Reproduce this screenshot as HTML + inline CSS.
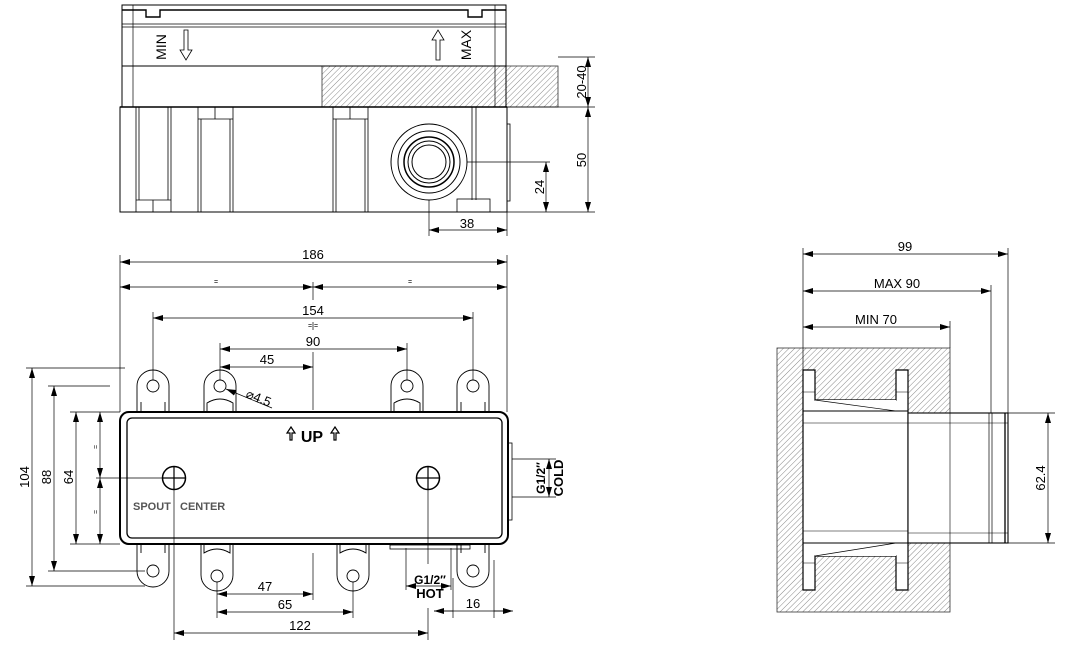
<!DOCTYPE html>
<html><head><meta charset="utf-8"><style>
html,body{margin:0;padding:0;background:#fff;}
svg{display:block;font-family:"Liberation Sans",sans-serif;}
</style></head><body>
<svg width="1078" height="645" viewBox="0 0 1078 645" xmlns="http://www.w3.org/2000/svg">
<defs>
<pattern id="h" width="4" height="4" patternUnits="userSpaceOnUse" patternTransform="rotate(45)">
<line x1="0" y1="0" x2="0" y2="4" stroke="#555" stroke-width="0.7"/>
</pattern>
<marker id="a" viewBox="0 0 10 6" refX="10" refY="3" markerWidth="10" markerHeight="6" orient="auto-start-reverse" markerUnits="userSpaceOnUse">
<path d="M0,0 L10,3 L0,6 z" fill="#000"/>
</marker>
</defs>
<g fill="none" stroke="#000" stroke-width="1">
<!-- TOP VIEW -->
<rect x="322" y="66" width="236" height="41" fill="url(#h)" stroke="#333" stroke-width="0.8"/>
<rect x="122" y="5" width="384" height="102"/>
<line x1="133" y1="5" x2="133" y2="107" stroke-width="0.7"/>
<line x1="495" y1="5" x2="495" y2="107" stroke-width="0.7"/>
<path d="M122,10 H146 V17 H160 V10 H468 V17 H482 V10 H506" stroke-width="1.4"/>
<line x1="122" y1="24" x2="506" y2="24" stroke-width="0.7"/>
<line x1="122" y1="27" x2="506" y2="27" stroke-width="0.7"/>
<line x1="122" y1="66" x2="506" y2="66"/>
<line x1="120" y1="107" x2="507" y2="107" stroke-width="1.6"/>
<rect x="120" y="107" width="387" height="105"/>
<g stroke-width="0.8">
<path d="M136,107 V212 M139,107 V200 M168,107 V200 M171,107 V212 M136,200 H171 M153,200 V212"/>
<path d="M198,107 V212 M233,107 V212 M201,119 V212 M230,119 V212 M198,119 H233 M215,107 V119"/>
<path d="M333,107 V212 M368,107 V212 M336,119 V212 M365,119 V212 M333,119 H368 M350,107 V119"/>
</g>
<line x1="472" y1="107" x2="472" y2="200" stroke-width="0.8"/>
<line x1="476" y1="107" x2="476" y2="200" stroke-width="0.8"/>
<rect x="457" y="199" width="33" height="13" stroke-width="0.8"/>
<rect x="507" y="124" width="3" height="77" stroke-width="0.8"/>
<circle cx="429" cy="162" r="38"/>
<circle cx="429" cy="162" r="31"/>
<circle cx="429" cy="162" r="25" stroke-width="1.5"/>
<circle cx="429" cy="162" r="21"/>
<circle cx="429" cy="162" r="17"/>
<path d="M184,30 V50 H180 L186,60 L192,50 H188 V30 Z" stroke-width="0.8"/>
<path d="M436,60 V40 H432 L438,30 L444,40 H440 V60 Z" stroke-width="0.8"/>
<!-- top dims -->
<line x1="558" y1="57" x2="595" y2="57" stroke-width="0.7"/>
<line x1="507" y1="107" x2="595" y2="107" stroke-width="0.7"/>
<line x1="507" y1="212" x2="595" y2="212" stroke-width="0.7"/>
<line x1="588" y1="57" x2="588" y2="107" marker-start="url(#a)" marker-end="url(#a)" stroke-width="0.7"/>
<line x1="588" y1="107" x2="588" y2="212" marker-start="url(#a)" marker-end="url(#a)" stroke-width="0.7"/>
<line x1="467" y1="162" x2="550" y2="162" stroke-width="0.7"/>
<line x1="546" y1="162" x2="546" y2="212" marker-start="url(#a)" marker-end="url(#a)" stroke-width="0.7"/>
<line x1="429" y1="200" x2="429" y2="236" stroke-width="0.7"/>
<line x1="507" y1="212" x2="507" y2="236" stroke-width="0.7"/>
<line x1="429" y1="230" x2="507" y2="230" marker-start="url(#a)" marker-end="url(#a)" stroke-width="0.7"/>

<!-- FRONT VIEW -->
<g stroke-width="0.9">
<path d="M137,412 V386 A16,16 0 0 1 169,386 V412" fill="#fff"/>
<path d="M204,412 V386 A16,16 0 0 1 236,386 V412" fill="#fff"/>
<path d="M391,412 V386 A16,16 0 0 1 423,386 V412" fill="#fff"/>
<path d="M457,412 V386 A16,16 0 0 1 489,386 V412" fill="#fff"/>
<path d="M137,543 V571 A16,16 0 0 0 169,571 V543" fill="#fff"/>
<path d="M201,543 V575 A16,16 0 0 0 233,575 V543" fill="#fff"/>
<path d="M337,543 V575 A16,16 0 0 0 369,575 V543" fill="#fff"/>
<path d="M457,543 V571 A16,16 0 0 0 489,571 V543" fill="#fff"/>
<circle cx="153" cy="386" r="6"/><circle cx="220" cy="386" r="6"/><circle cx="407" cy="386" r="6"/><circle cx="473" cy="386" r="6"/>
<circle cx="153" cy="571" r="6"/><circle cx="217" cy="576" r="6"/><circle cx="353" cy="576" r="6"/><circle cx="473" cy="571" r="6"/>
<path d="M207,411 V403 Q220,395 233,403 V411"/>
<path d="M394,411 V403 Q407,395 420,403 V411"/>
<path d="M204,545 V553 Q217,545 230,553 V545"/>
<path d="M340,545 V553 Q353,545 366,553 V545"/>
<path d="M141,412 V402 M165,412 V402 M461,412 V402 M485,412 V402 M141,543 V553 M165,543 V553 M461,543 V553 M485,543 V553"/>
</g>
<rect x="120" y="412" width="388" height="132" rx="9" fill="#fff" stroke-width="2"/>
<rect x="127" y="418" width="375" height="120" rx="5" stroke-width="1.3"/>
<rect x="508" y="443" width="4" height="77" stroke-width="0.8"/>
<rect x="390" y="545" width="80" height="4" stroke-width="0.8"/>
<circle cx="174" cy="478" r="11.5" stroke-width="1.5"/>
<path d="M162.5,478 H185.5 M174,466.5 V489.5" stroke-width="1.2"/>
<circle cx="428" cy="478" r="11.5" stroke-width="1.5"/>
<path d="M416.5,478 H439.5 M428,466.5 V489.5" stroke-width="1.2"/>
<path d="M290,440 V433 H287 L291,427 L295,433 H292 V440 Z" stroke-width="1.2"/>
<path d="M334,440 V433 H331 L335,427 L339,433 H336 V440 Z" stroke-width="1.2"/>
<g stroke-width="0.7">
<line x1="120" y1="255" x2="120" y2="412"/>
<line x1="507" y1="255" x2="507" y2="412"/>
<line x1="120" y1="262" x2="507" y2="262" marker-start="url(#a)" marker-end="url(#a)"/>
<line x1="120" y1="287" x2="313" y2="287" marker-start="url(#a)" marker-end="url(#a)"/>
<line x1="313" y1="287" x2="507" y2="287" marker-start="url(#a)" marker-end="url(#a)"/>
<line x1="313" y1="282" x2="313" y2="300"/>
<line x1="153" y1="312" x2="153" y2="380"/>
<line x1="473" y1="312" x2="473" y2="380"/>
<line x1="153" y1="318" x2="473" y2="318" marker-start="url(#a)" marker-end="url(#a)"/>
<line x1="313" y1="322" x2="313" y2="330"/>
<line x1="220" y1="343" x2="220" y2="380"/>
<line x1="407" y1="343" x2="407" y2="380"/>
<line x1="220" y1="349" x2="407" y2="349" marker-start="url(#a)" marker-end="url(#a)"/>
<line x1="313" y1="352" x2="313" y2="410"/>
<line x1="220" y1="367" x2="313" y2="367" marker-start="url(#a)" marker-end="url(#a)"/>
<line x1="226" y1="389" x2="272" y2="408" marker-start="url(#a)"/>
<line x1="26" y1="368" x2="125" y2="368"/>
<line x1="26" y1="586" x2="145" y2="586"/>
<line x1="32" y1="368" x2="32" y2="586" marker-start="url(#a)" marker-end="url(#a)"/>
<line x1="48" y1="386" x2="110" y2="386"/>
<line x1="48" y1="571" x2="145" y2="571"/>
<line x1="54" y1="386" x2="54" y2="571" marker-start="url(#a)" marker-end="url(#a)"/>
<line x1="70" y1="412" x2="120" y2="412"/>
<line x1="70" y1="544" x2="120" y2="544"/>
<line x1="76" y1="412" x2="76" y2="544" marker-start="url(#a)" marker-end="url(#a)"/>
<line x1="100" y1="412" x2="100" y2="478" marker-start="url(#a)" marker-end="url(#a)"/>
<line x1="100" y1="478" x2="100" y2="544" marker-start="url(#a)" marker-end="url(#a)"/>
<line x1="96" y1="478" x2="162" y2="478"/>
<line x1="174" y1="490" x2="174" y2="640"/>
<line x1="428" y1="490" x2="428" y2="564"/>
<line x1="428" y1="608" x2="428" y2="640"/>
<line x1="174" y1="633" x2="428" y2="633" marker-start="url(#a)" marker-end="url(#a)"/>
<line x1="217" y1="582" x2="217" y2="618"/>
<line x1="353" y1="582" x2="353" y2="618"/>
<line x1="313" y1="553" x2="313" y2="600"/>
<line x1="217" y1="594" x2="313" y2="594" marker-start="url(#a)" marker-end="url(#a)"/>
<line x1="217" y1="612" x2="353" y2="612" marker-start="url(#a)" marker-end="url(#a)"/>
<line x1="453" y1="578" x2="453" y2="618"/>
<line x1="494" y1="560" x2="494" y2="618"/>
<line x1="434" y1="611" x2="510" y2="611"/>
<line x1="453" y1="611" x2="434" y2="611" marker-end="url(#a)"/>
<line x1="494" y1="611" x2="513" y2="611" marker-end="url(#a)"/>
<line x1="406" y1="548" x2="406" y2="590"/>
<line x1="451" y1="548" x2="451" y2="590"/>
<line x1="406" y1="586" x2="451" y2="586" marker-start="url(#a)" marker-end="url(#a)"/>
<line x1="512" y1="459" x2="556" y2="459"/>
<line x1="512" y1="497" x2="556" y2="497"/>
<line x1="549" y1="459" x2="549" y2="497" marker-start="url(#a)" marker-end="url(#a)"/>
</g>

<!-- SIDE VIEW -->
<rect x="777" y="348" width="173" height="264" fill="url(#h)" stroke="#333" stroke-width="0.8"/>
<path d="M803,370 H815 V400 H896 V370 H908 V590 H896 V556 H815 V590 H803 Z" fill="#fff" stroke-width="1.2"/>
<rect x="815" y="400" width="81" height="12" fill="#fff" stroke="none"/>
<rect x="815" y="543" width="81" height="13" fill="#fff" stroke="none"/>
<path d="M815,400 L896,411 M815,556 L896,543" stroke-width="0.7"/>
<line x1="803" y1="411" x2="908" y2="411"/>
<line x1="803" y1="543" x2="908" y2="543"/>
<line x1="803" y1="423" x2="908" y2="423" stroke-width="0.6"/>
<line x1="803" y1="531" x2="908" y2="531" stroke-width="0.6"/>
<path d="M803,392 H815 M896,392 H908 M803,563 H815 M896,563 H908" stroke-width="0.5"/>
<rect x="908" y="413" width="100" height="130" fill="#fff" stroke-width="1.1"/>
<line x1="950" y1="413" x2="950" y2="543" stroke-width="0.6"/>
<line x1="989" y1="413" x2="989" y2="543" stroke-width="0.7"/>
<line x1="992" y1="413" x2="992" y2="543" stroke-width="0.7"/>
<line x1="1005" y1="413" x2="1005" y2="543" stroke-width="1.3"/>
<line x1="908" y1="423" x2="1008" y2="423" stroke-width="0.5"/>
<line x1="908" y1="533" x2="1008" y2="533" stroke-width="0.5"/>
<g stroke-width="0.7">
<line x1="803" y1="248" x2="803" y2="370"/>
<line x1="1008" y1="248" x2="1008" y2="413"/>
<line x1="991" y1="285" x2="991" y2="413"/>
<line x1="950" y1="321" x2="950" y2="348"/>
<line x1="803" y1="254" x2="1008" y2="254" marker-start="url(#a)" marker-end="url(#a)"/>
<line x1="803" y1="291" x2="991" y2="291" marker-start="url(#a)" marker-end="url(#a)"/>
<line x1="803" y1="327" x2="950" y2="327" marker-start="url(#a)" marker-end="url(#a)"/>
<line x1="1008" y1="413" x2="1055" y2="413"/>
<line x1="1008" y1="543" x2="1055" y2="543"/>
<line x1="1048" y1="413" x2="1048" y2="543" marker-start="url(#a)" marker-end="url(#a)"/>
</g>
</g>

<g fill="#000" font-size="13" text-anchor="middle">
<text transform="translate(166,47) rotate(-90)" font-size="14">MIN</text>
<text transform="translate(471,45) rotate(-90)" font-size="14">MAX</text>
<text transform="translate(586,82) rotate(-90)">20-40</text>
<text transform="translate(586,160) rotate(-90)">50</text>
<text transform="translate(544,187) rotate(-90)">24</text>
<text x="467" y="228">38</text>
<text x="313" y="259">186</text>
<text x="216" y="284" font-size="7">=</text>
<text x="410" y="284" font-size="7">=</text>
<text x="313" y="315">154</text>
<text x="313" y="328" font-size="7">= =</text>
<text x="313" y="346">90</text>
<text x="267" y="364">45</text>
<text x="257" y="402" transform="rotate(22 257 402)">⌀4.5</text>
<text x="312" y="442" font-size="16" font-weight="bold">UP</text>
<text x="133" y="510" text-anchor="start" font-size="11" fill="#555" font-weight="bold">SPOUT</text>
<text x="180" y="510" text-anchor="start" font-size="11" fill="#555" font-weight="bold">CENTER</text>
<text transform="translate(29,477) rotate(-90)">104</text>
<text transform="translate(51,477) rotate(-90)">88</text>
<text transform="translate(73,477) rotate(-90)">64</text>
<text transform="translate(98,447) rotate(-90)" font-size="7">=</text>
<text transform="translate(98,512) rotate(-90)" font-size="7">=</text>
<text x="265" y="591">47</text>
<text x="285" y="609">65</text>
<text x="300" y="630">122</text>
<text x="473" y="608">16</text>
<text x="430" y="584" font-size="12" font-weight="bold">G1/2″</text>
<text x="430" y="598" font-size="13" font-weight="bold">HOT</text>
<text transform="translate(545,478) rotate(-90)" font-size="12" font-weight="bold">G1/2″</text>
<text transform="translate(563,478) rotate(-90)" font-size="13" font-weight="bold">COLD</text>
<text x="905" y="251">99</text>
<text x="897" y="288">MAX  90</text>
<text x="876" y="324">MIN  70</text>
<text transform="translate(1045,478) rotate(-90)">62.4</text>
</g>
</svg>
</body></html>
